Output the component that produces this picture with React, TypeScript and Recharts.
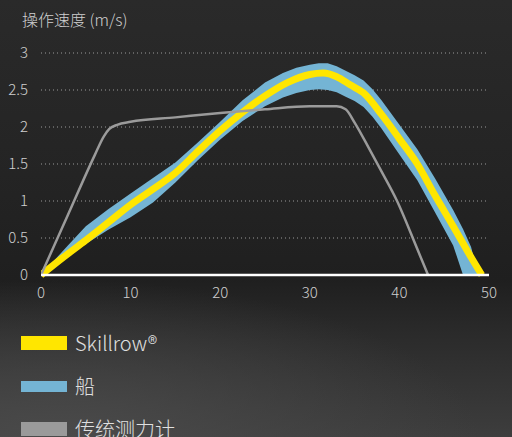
import React from 'react';
import { ComposedChart, Area, Line, XAxis, YAxis, CartesianGrid } from 'recharts';

// Skillrow® curve
const SKILL_X = [0, 2.5, 5, 7.5, 10, 12.5, 15, 17.5, 20, 22.5, 25, 27.5, 30, 31.5, 33, 34.5, 36, 38, 40, 42, 44, 46, 48, 49.2];
const SKILL_Y = [0, 0.24, 0.47, 0.71, 0.95, 1.16, 1.38, 1.67, 1.95, 2.2, 2.42, 2.6, 2.71, 2.73, 2.68, 2.57, 2.46, 2.17, 1.84, 1.5, 1.07, 0.66, 0.24, 0];

// 船 band (low / high)
const BOAT_X = [0, 1.5, 3, 5, 7.5, 10, 12.5, 15, 17.5, 20, 22.5, 25, 27, 28.5, 30, 31, 32, 33, 34, 35, 36, 37, 38, 40, 42, 44, 46, 47.1, 48, 48.8];
const BOAT_LOW = [0, 0.12, 0.25, 0.42, 0.61, 0.78, 0.98, 1.25, 1.55, 1.83, 2.08, 2.28, 2.4, 2.46, 2.5, 2.51, 2.5, 2.47, 2.41, 2.35, 2.27, 2.14, 1.98, 1.63, 1.28, 0.84, 0.4, 0, 0, 0];
const BOAT_HIGH = [0, 0.2, 0.4, 0.66, 0.89, 1.1, 1.31, 1.52, 1.79, 2.07, 2.36, 2.6, 2.73, 2.8, 2.84, 2.86, 2.86, 2.82, 2.76, 2.7, 2.63, 2.51, 2.36, 2.03, 1.7, 1.3, 0.88, 0.62, 0.38, 0];

// 传统测力计
const ERG_X = [0, 3, 6, 7, 7.6, 8.5, 10, 15, 20, 25, 30, 33, 34, 35, 36.7, 38, 39.7, 42, 43.2];
const ERG_Y = [0, 0.81, 1.62, 1.87, 1.97, 2.03, 2.07, 2.13, 2.19, 2.24, 2.28, 2.28, 2.24, 2.06, 1.69, 1.4, 1.01, 0.35, 0];

const X_TICKS = [0, 10, 20, 30, 40, 50];
const Y_TICKS = [0, 0.5, 1, 1.5, 2, 2.5, 3];

const LEGEND = [
  { label: 'Skillrow®', color: '#ffe600', h: 14 },
  { label: '船', color: '#74b4d4', h: 11 },
  { label: '传统测力计', color: '#9a9a9a', h: 14 },
];

const skillData = SKILL_X.map((x, i) => ({ x, y: SKILL_Y[i] }));
const boatData = BOAT_X.map((x, i) => ({ x, band: [BOAT_LOW[i], BOAT_HIGH[i]] }));
const ergData = ERG_X.map((x, i) => ({ x, y: ERG_Y[i] }));

const FONT = '"Noto Sans CJK SC", "Noto Sans", sans-serif';
const tickStyle = { fontSize: 15, fill: '#cfcfcf', fontFamily: FONT, fontWeight: 300 };

const fmtY = (v: number) => String(v);

export default function App() {
  return (
    <div
      style={{
        position: 'fixed', left: 0, top: 0, width: 512, height: 437, overflow: 'hidden',
        background: 'radial-gradient(ellipse 420px 160px at 60px 440px, #4a4a4a 0%, rgba(74,74,74,0) 100%), linear-gradient(180deg, #2a2a2a 0%, #242424 40%, #1f1f1f 64%, #2c2c2c 78%, #3d3d3d 100%)',
        fontFamily: FONT,
      }}
    >
      <div style={{ position: 'absolute', left: 22, top: 7, fontSize: 16, color: '#d0d0d0', fontWeight: 300 }}>
        操作速度 (m/s)
      </div>
      <div style={{ position: 'absolute', left: 0, top: 0 }}>
        <ComposedChart width={512} height={310} margin={{ top: 53, right: 23, bottom: 0, left: 0 }}>
          <CartesianGrid horizontal vertical={false} stroke="#9a9a9a" strokeDasharray="1 3" />
          <XAxis
            type="number" dataKey="x" domain={[0, 50]} ticks={X_TICKS} allowDataOverflow
            axisLine={{ stroke: '#ffffff', strokeWidth: 2.5 }} tickLine={false} tickSize={0} tickMargin={12}
            tick={tickStyle} height={35}
          />
          <YAxis
            type="number" domain={[0, 3]} ticks={Y_TICKS} width={41}
            axisLine={false} tickLine={false} tickSize={0} tickMargin={13}
            tick={tickStyle} tickFormatter={fmtY}
          />
          <Area
            data={boatData} dataKey="band" type="linear" stroke="none" fill="#74b4d4" fillOpacity={1}
            isAnimationActive={false}
          />
          <Line
            data={skillData} dataKey="y" type="monotone" stroke="#ffe600" strokeWidth={7} dot={false}
            isAnimationActive={false}
          />
          <Line
            data={ergData} dataKey="y" type="monotone" stroke="#9b9b9b" strokeWidth={2.5} dot={false}
            isAnimationActive={false}
          />
        </ComposedChart>
      </div>
      {LEGEND.map((l, i) => (
        <div key={l.label} style={{ position: 'absolute', left: 21, top: 333 + i * 43, height: 20, display: 'flex', alignItems: 'center' }}>
          <div style={{ width: 46, height: l.h, background: l.color }} />
          <span style={{ marginLeft: 8, fontSize: 20, color: '#e0e0e0', fontWeight: 300, lineHeight: '20px' }}>{l.label}</span>
        </div>
      ))}
    </div>
  );
}
